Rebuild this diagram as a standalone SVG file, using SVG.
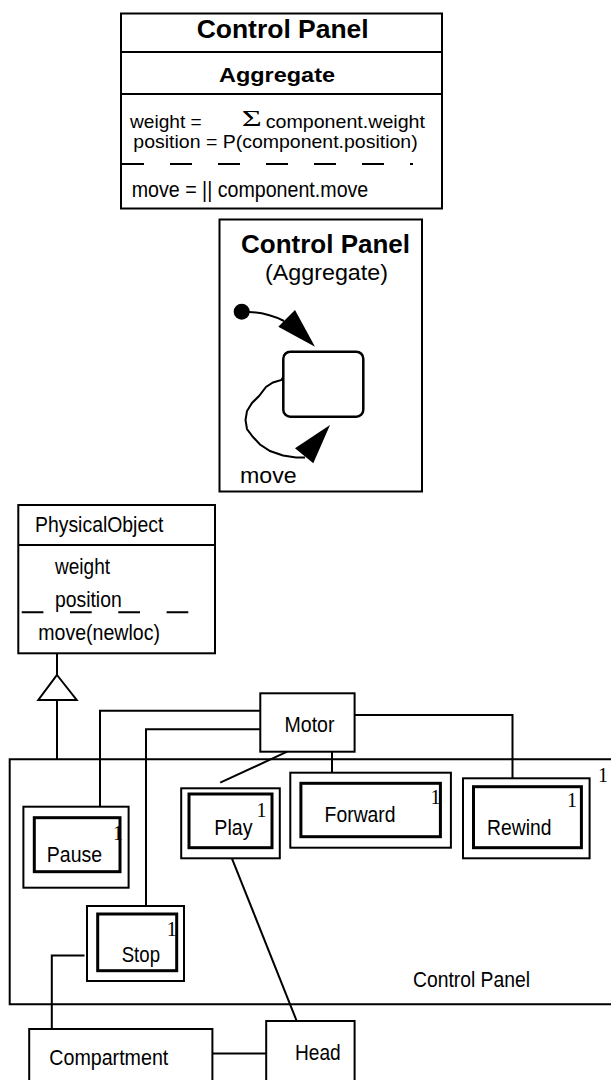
<svg xmlns="http://www.w3.org/2000/svg" width="611" height="1080" viewBox="0 0 611 1080">
  <style>
    .box { fill: #fff; stroke: #000; stroke-width: 2; }
    .inner { fill: #fff; stroke: #000; stroke-width: 3; }
    .ln { fill: none; stroke: #000; stroke-width: 2; }
    .dash { fill: none; stroke: #000; stroke-width: 2; }
    .t { font-family: "Liberation Sans", Arial, sans-serif; font-size: 21.5px; fill: #000; }
    .s { font-family: "Liberation Sans", Arial, sans-serif; font-size: 19px; fill: #000; }
    .b { font-family: "Liberation Sans", Arial, sans-serif; font-size: 25px; font-weight: bold; fill: #000; }
    .n { font-family: "Liberation Serif", "Times New Roman", serif; font-size: 20px; fill: #000; }
  </style>

  <rect width="611" height="1080" fill="#fff"/>

  <!-- Aggregate class box -->
  <g id="aggregate-class">
    <rect class="box" x="121" y="13.5" width="321" height="195"/>
    <line class="ln" x1="121" y1="52" x2="442" y2="52"/>
    <line class="ln" x1="121" y1="94" x2="442" y2="94"/>
    <line class="dash" x1="122" y1="164" x2="413" y2="164" stroke-dasharray="22 26"/>
    <text class="b" x="196.7" y="38.3" textLength="172" lengthAdjust="spacingAndGlyphs">Control Panel</text>
    <text class="b" x="219" y="82" style="font-size:21px" textLength="116" lengthAdjust="spacingAndGlyphs">Aggregate</text>
    <text class="s" x="130" y="127.7" textLength="71.7" lengthAdjust="spacingAndGlyphs">weight =</text>
    <text class="n" x="241.7" y="126" style="font-size:24px" textLength="20" lengthAdjust="spacingAndGlyphs">Σ</text>
    <text class="s" x="265.7" y="127.7" textLength="159.3" lengthAdjust="spacingAndGlyphs">component.weight</text>
    <text class="s" x="133.3" y="148" textLength="284.4" lengthAdjust="spacingAndGlyphs">position = P(component.position)</text>
    <text class="t" x="131.7" y="196.7" textLength="236.6" lengthAdjust="spacingAndGlyphs">move = || component.move</text>
  </g>

  <!-- Aggregate state machine -->
  <g id="aggregate-states">
    <rect class="box" x="219.5" y="219.5" width="202.5" height="272"/>
    <text class="b" x="241" y="253" textLength="169" lengthAdjust="spacingAndGlyphs">Control Panel</text>
    <text class="t" x="265" y="280" textLength="123" lengthAdjust="spacingAndGlyphs">(Aggregate)</text>
    <circle cx="241.7" cy="311.7" r="8" fill="#000"/>
    <path class="ln" d="M249,312 C262,312.5 272,315 284,321"/>
    <polygon points="278.3,326.7 295,310 315,346.7" fill="#000"/>
    <rect x="283.3" y="351.7" width="80" height="65" rx="7" fill="#fff" stroke="#000" stroke-width="2.5"/>
    <path class="ln" d="M283.3,376.7 L281.5,380 L273,382.5 L266,387 L259,396 L252,403 L247,411 L245.5,420 L247,429 L253,437 L260,444.5 L270,451 L283,455.5 L296,457.5 L305,457.5"/>
    <polygon points="295,448.3 330,425 313.3,463.3" fill="#000"/>
    <text class="t" x="240" y="483" textLength="56.7" lengthAdjust="spacingAndGlyphs">move</text>
  </g>

  <!-- PhysicalObject class -->
  <g id="physical-object">
    <rect class="box" x="18.3" y="505" width="196.7" height="148.3"/>
    <line class="ln" x1="18.3" y1="545" x2="215" y2="545"/>
    <line class="dash" x1="21.7" y1="612.3" x2="188.3" y2="612.3" stroke-dasharray="21.7 26.6"/>
    <text class="t" x="35" y="531.7" textLength="128.3" lengthAdjust="spacingAndGlyphs">PhysicalObject</text>
    <text class="t" x="55" y="574" textLength="55" lengthAdjust="spacingAndGlyphs">weight</text>
    <text class="t" x="55" y="606.7" textLength="66.7" lengthAdjust="spacingAndGlyphs">position</text>
    <text class="t" x="38.3" y="640" textLength="121.7" lengthAdjust="spacingAndGlyphs">move(newloc)</text>
  </g>

  <!-- Control Panel composite -->
  <g id="control-panel">
    <path class="ln" d="M620,759.3 L9.7,759.3 L9.7,1004.3 L620,1004.3"/>
    <text class="n" x="598" y="781.7">1</text>
    <text class="t" x="413" y="986.7" textLength="117" lengthAdjust="spacingAndGlyphs">Control Panel</text>
  </g>

  <g id="motor">
    <rect class="box" x="260.3" y="693.3" width="94.3" height="58.4"/>
    <text class="t" x="284.5" y="731.7" textLength="50" lengthAdjust="spacingAndGlyphs">Motor</text>
  </g>

  <g id="pause">
    <rect class="box" x="23.4" y="806.7" width="105.2" height="81"/>
    <rect class="inner" x="34.3" y="817.7" width="85.7" height="54"/>
    <text class="t" x="46.8" y="861.7" textLength="55.3" lengthAdjust="spacingAndGlyphs">Pause</text>
    <text class="n" x="113" y="840">1</text>
  </g>

  <g id="play">
    <rect class="box" x="181.2" y="788.3" width="98.6" height="70"/>
    <rect class="inner" x="189" y="794" width="83" height="53.7"/>
    <text class="t" x="214.3" y="835" textLength="38.2" lengthAdjust="spacingAndGlyphs">Play</text>
    <text class="n" x="256.4" y="816.7">1</text>
  </g>

  <g id="forward">
    <rect class="box" x="290.3" y="772.7" width="160.6" height="75"/>
    <rect class="inner" x="300.9" y="783.3" width="139.5" height="53.4"/>
    <text class="t" x="324.6" y="821.7" textLength="71" lengthAdjust="spacingAndGlyphs">Forward</text>
    <text class="n" x="430.6" y="804">1</text>
  </g>

  <g id="rewind">
    <rect class="box" x="463" y="778.3" width="126.6" height="80"/>
    <rect class="inner" x="473.5" y="786.7" width="107.9" height="61"/>
    <text class="t" x="487.1" y="835" textLength="64.3" lengthAdjust="spacingAndGlyphs">Rewind</text>
    <text class="n" x="567" y="807.3">1</text>
  </g>

  <g id="stop">
    <rect class="box" x="87" y="906" width="97" height="75"/>
    <rect class="inner" x="97.7" y="914" width="79" height="56.7"/>
    <text class="t" x="121.7" y="961.7" textLength="38.3" lengthAdjust="spacingAndGlyphs">Stop</text>
    <text class="n" x="166.7" y="936">1</text>
  </g>

  <g id="compartment">
    <rect class="box" x="29.2" y="1029" width="183.2" height="70"/>
    <text class="t" x="49.3" y="1065" textLength="119" lengthAdjust="spacingAndGlyphs">Compartment</text>
  </g>

  <g id="head">
    <rect class="box" x="266.2" y="1021" width="88.4" height="78"/>
    <text class="t" x="295" y="1060" textLength="45.7" lengthAdjust="spacingAndGlyphs">Head</text>
  </g>

  <!-- Connectors -->
  <g id="connectors">
    <line class="ln" x1="57" y1="653.3" x2="57" y2="675"/>
    <polygon class="box" points="57,675 76.7,700 38.3,700"/>
    <line class="ln" x1="57" y1="700" x2="57" y2="759.3"/>
    <polyline class="ln" points="260.3,710.7 100,710.7 100,806.7"/>
    <polyline class="ln" points="260.3,729.3 146,729.3 146,906"/>
    <line class="ln" x1="287.2" y1="751.7" x2="220.2" y2="782.7"/>
    <line class="ln" x1="332" y1="751.7" x2="332" y2="772.7"/>
    <polyline class="ln" points="354.6,715 512.5,715 512.5,778.3"/>
    <line class="ln" x1="231.9" y1="858.3" x2="296.7" y2="1021"/>
    <polyline class="ln" points="84.5,955.5 51.8,955.5 51.8,1029"/>
    <line class="ln" x1="212.4" y1="1053.5" x2="266.2" y2="1053.5"/>
  </g>
</svg>
